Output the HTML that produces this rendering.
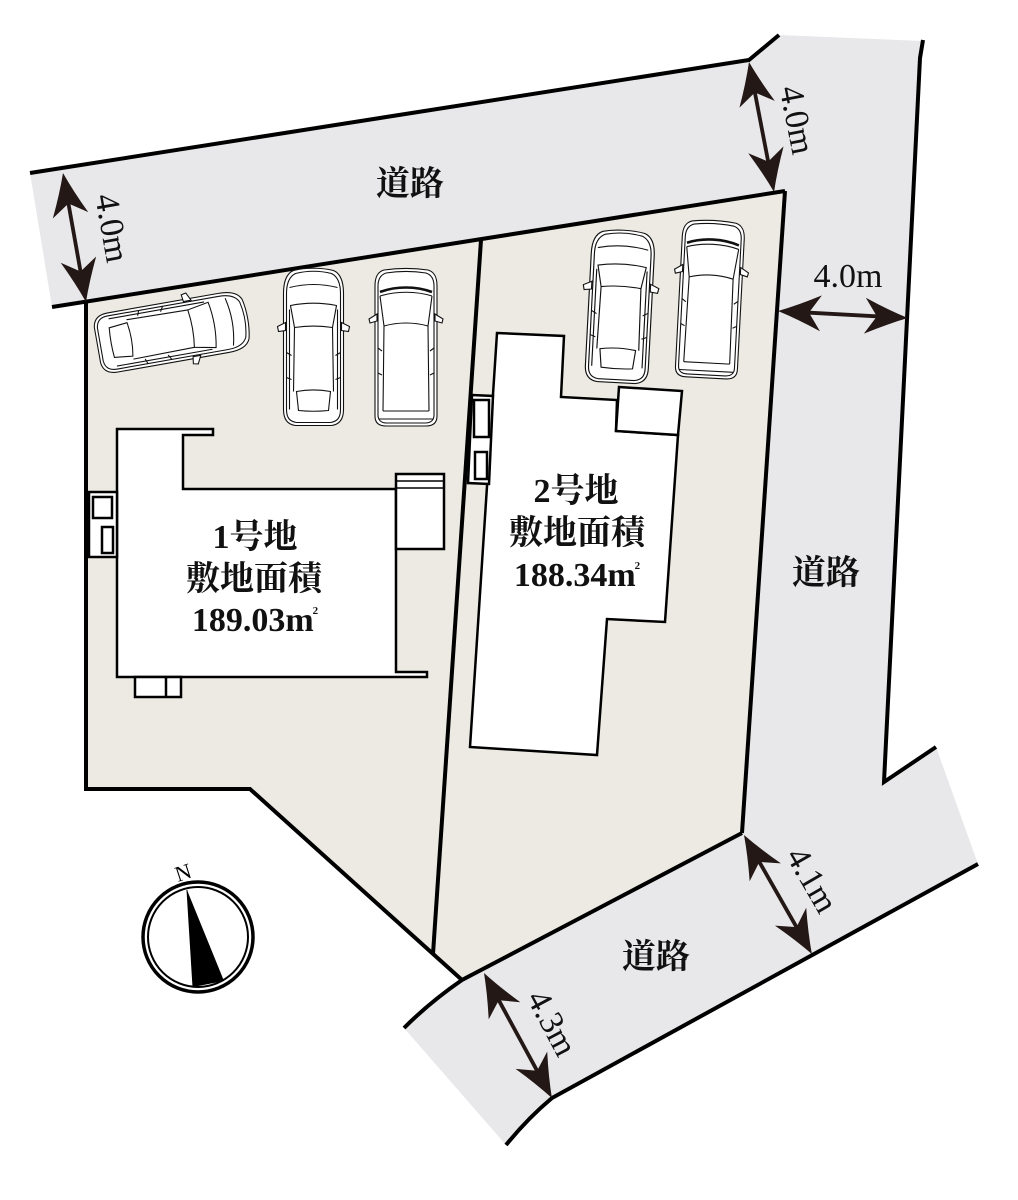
<!DOCTYPE html>
<html>
<head>
<meta charset="utf-8">
<style>
html,body{margin:0;padding:0;background:#fff;}
svg{display:block;}
.jp{font-family:"Liberation Serif","Noto Serif CJK SC",serif;font-weight:bold;}
.num{font-family:"Liberation Serif","Noto Serif CJK SC",serif;}
</style>
</head>
<body>
<svg width="1018" height="1200" viewBox="0 0 1018 1200" xmlns="http://www.w3.org/2000/svg">
<defs>
  <path id="ah" d="M0,0 Q-20,-7 -43,-18 L-31,0 L-43,18 Q-20,7 0,0 Z" fill="#231815"/>
  <g id="carA" stroke="#111" stroke-width="1.1" fill="#fff">
    <path d="M-20,-77 C-8,-80 8,-80 20,-77 C27,-74 30,-66 30,-54 L30,62 C30,72 26,77 18,78 L-18,78 C-26,77 -30,72 -30,62 L-30,-54 C-30,-66 -27,-74 -20,-77 Z"/>
    <path d="M-18,-74 C-6,-77 6,-77 18,-74 C24,-71 27,-64 27,-54 L27,62 C27,70 24,74 17,75 L-17,75 C-24,74 -27,70 -27,62 L-27,-54 C-27,-64 -24,-71 -18,-74 Z" fill="none"/>
    <path d="M-24,-60 C-8,-64 8,-64 24,-60" fill="none"/>
    <path d="M-23,-42 C-8,-45 8,-45 23,-42 L19,-20 C6,-22 -6,-22 -19,-20 Z"/>
    <path d="M-19,-20 L-20,44 M19,-20 L20,44 M-24,-38 L-24,62 M24,-38 L24,62" fill="none"/>
    <path d="M-17,44 C-6,42 6,42 17,44 L15,63 C5,64 -5,64 -15,63 Z"/>
    <path d="M-28,-25 L-36,-21 L-35,-16 L-28,-17 Z"/>
    <path d="M28,-25 L36,-21 L35,-16 L28,-17 Z"/>
    <path d="M-27,5 L-22,8 M27,5 L22,8 M-27,30 L-22,32 M27,30 L22,32" fill="none"/>
  </g>
  <g id="carB" stroke="#111" stroke-width="1.1" fill="#fff">
    <path d="M-22,-78 C-8,-80 8,-80 22,-78 C29,-76 31,-70 31,-62 L31,68 C31,75 27,78 20,78 L-20,78 C-27,78 -31,75 -31,68 L-31,-62 C-31,-70 -29,-76 -22,-78 Z"/>
    <path d="M-20,-75 C-7,-77 7,-77 20,-75 C26,-73 28,-68 28,-62 L28,67 C28,72 25,75 19,75 L-19,75 C-25,75 -28,72 -28,67 L-28,-62 C-28,-68 -26,-73 -20,-75 Z" fill="none"/>
    <path d="M-26,-56 C-10,-62 10,-62 26,-56" fill="none" stroke-width="2.6"/>
    <path d="M-26,-52 C-10,-57 10,-57 26,-52" fill="none"/>
    <path d="M-22,-22 C-8,-26 8,-26 22,-22" fill="none"/>
    <path d="M-22,-22 L-23,63 M22,-22 L23,63 M-26,-52 L-22,-22 M26,-52 L22,-22" fill="none"/>
    <path d="M-23,63 L23,63 M-27,71 L27,71" fill="none"/>
    <path d="M-29,-34 L-37,-29 L-36,-25 L-29,-27 Z"/>
    <path d="M29,-34 L37,-29 L36,-25 L29,-27 Z"/>
    <path d="M-28,0 L-24,3 M28,0 L24,3 M-28,25 L-24,27 M28,25 L24,27" fill="none"/>
  </g>
</defs>

<!-- roads -->
<polygon points="30,173 749,60 779,35 922,41 920,58 884,782 936,747 978,864 552,1098 506,1145 404,1028 462,980 742,833 785,191 52,307" fill="#E8E8EA"/>

<!-- lots -->
<polygon points="86,302 481,240 433,954 250,789 86,789" fill="#ECEAE2"/>
<polygon points="481,240 785,191 742,833 462,980 433,954" fill="#ECEAE2"/>

<!-- boundary lines -->
<g fill="none" stroke="#000" stroke-width="4" stroke-linejoin="miter">
  <polyline points="30,173 749,60 779,35"/>
  <polyline points="923,40 920,58 884,782 936,747"/>
  <line x1="52" y1="307" x2="785" y2="191"/>
  <line x1="785" y1="191" x2="742" y2="833"/>
  <path d="M742,833 L462,980 Q430,1002 404,1028"/>
  <path d="M978,864 L552,1098 Q528,1118 506,1145"/>
  <polyline points="86,302 86,789 250,789 462,980"/>
  <line x1="481" y1="240" x2="433" y2="954"/>
</g>

<!-- building 1 -->
<g fill="#fff" stroke="#000" stroke-width="2.5">
  <polygon points="117,429 213,429 213,435 183,435 183,489 396,489 396,672 427,672 427,677 117,677"/>
  <rect x="396" y="474" width="48" height="75"/>
  <line x1="396" y1="481" x2="444" y2="481" stroke-width="1.5"/>
  <line x1="396" y1="488" x2="444" y2="488" stroke-width="1.5"/>
  <rect x="135" y="677" width="46" height="20"/>
  <line x1="166" y1="677" x2="166" y2="697"/>
  <rect x="89" y="492" width="28" height="65"/>
  <rect x="93" y="497" width="19" height="21"/>
  <rect x="102" y="527" width="11" height="26"/>
</g>

<!-- building 2 -->
<g fill="#fff" stroke="#000" stroke-width="2.5">
  <polygon points="497,333 564,336 561,397 617,400 616,431 678,435 665,622 607,619 597,755 470,747"/>
  <polygon points="619,387 682,391 678,435 616,431"/>
  <polygon points="472,395 493,396 489,484 468,483"/>
  <rect x="474" y="400" width="15" height="37"/>
  <rect x="475" y="452" width="12" height="27"/>
</g>

<!-- cars -->
<use href="#carA" transform="translate(172,332) rotate(80) scale(1,0.97)"/>
<use href="#carA" transform="translate(313.5,347.5)"/>
<use href="#carB" transform="translate(406,348)"/>
<use href="#carA" transform="translate(620,307) rotate(3) scale(1.05,0.97)"/>
<use href="#carB" transform="translate(710,300) rotate(3)"/>

<!-- arrows -->
<g fill="#231815">
  <g transform="translate(63,173) rotate(79.9)">
    <line x1="20" y1="0" x2="111" y2="0" stroke="#231815" stroke-width="3.8"/>
    <use href="#ah" transform="rotate(180)"/>
    <use href="#ah" transform="translate(131,0)"/>
  </g>
  <g transform="translate(749,62) rotate(79.1)">
    <line x1="20" y1="0" x2="112" y2="0" stroke="#231815" stroke-width="3.8"/>
    <use href="#ah" transform="rotate(180)"/>
    <use href="#ah" transform="translate(132.4,0)"/>
  </g>
  <g transform="translate(778,311) rotate(3.1)">
    <line x1="20" y1="0" x2="110" y2="0" stroke="#231815" stroke-width="3.8"/>
    <use href="#ah" transform="rotate(180)"/>
    <use href="#ah" transform="translate(130,0)"/>
  </g>
  <g transform="translate(744,835) rotate(60.3)">
    <line x1="20" y1="0" x2="117" y2="0" stroke="#231815" stroke-width="3.8"/>
    <use href="#ah" transform="rotate(180)"/>
    <use href="#ah" transform="translate(137,0)"/>
  </g>
  <g transform="translate(484,973) rotate(61.5)">
    <line x1="20" y1="0" x2="122" y2="0" stroke="#231815" stroke-width="3.8"/>
    <use href="#ah" transform="rotate(180)"/>
    <use href="#ah" transform="translate(142.3,0)"/>
  </g>
</g>

<!-- dimension labels -->
<g class="num" font-size="34" fill="#111" text-anchor="middle">
  <text transform="translate(112,228) rotate(80)" x="0" y="11">4.0m</text>
  <text transform="translate(797,120) rotate(79)" x="0" y="11">4.0m</text>
  <text x="848" y="287">4.0m</text>
  <text transform="translate(812,880) rotate(60)" x="0" y="11">4.1m</text>
  <text transform="translate(552,1023) rotate(62)" x="0" y="11">4.3m</text>
</g>

<!-- road labels -->
<g class="jp" font-size="34" fill="#111" text-anchor="middle">
  <text x="410" y="195">道路</text>
  <text x="826" y="584">道路</text>
  <text x="656" y="968">道路</text>
</g>

<!-- lot labels -->
<g class="jp" font-size="34" fill="#111" text-anchor="middle">
  <text x="255" y="548">1号地</text>
  <text x="254" y="590">敷地面積</text>
  <text x="576" y="502">2号地</text>
  <text x="577" y="544">敷地面積</text>
</g>
<g class="num" font-size="34" font-weight="bold" fill="#111" text-anchor="middle">
  <text x="255" y="631">189.03m<tspan font-size="11" dx="-1" dy="-17">2</tspan></text>
  <text x="577" y="586">188.34m<tspan font-size="11" dx="-1" dy="-17">2</tspan></text>
</g>

<!-- compass -->
<g>
  <circle cx="198" cy="937" r="55" fill="#fff" stroke="#000" stroke-width="3.5"/>
  <circle cx="198" cy="937" r="50" fill="none" stroke="#000" stroke-width="2"/>
  <polygon points="187,890 193,987 224,981" fill="#000"/>
  <line x1="187" y1="890" x2="193" y2="987" stroke="#000" stroke-width="1"/>
  <text class="num" transform="translate(183,872) rotate(-18)" x="0" y="8" font-size="22" text-anchor="middle" fill="#000">N</text>
</g>
</svg>
</body>
</html>
